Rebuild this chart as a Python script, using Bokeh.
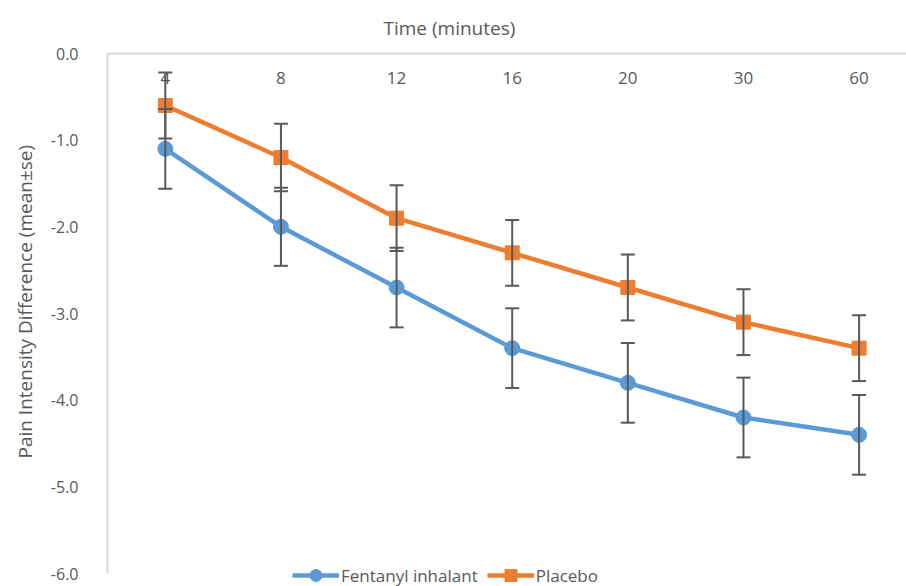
from bokeh.plotting import figure
from bokeh.models import (ColumnDataSource, Whisker, TeeHead, Range1d, FixedTicker,
                          Legend, LegendItem, CustomJSTickFormatter, Title)
from bokeh.embed import file_html
from bokeh.resources import INLINE

times = ["4", "8", "12", "16", "20", "30", "60"]
fentanyl = [-1.1, -2.0, -2.7, -3.4, -3.8, -4.2, -4.4]
fentanyl_se = [0.46, 0.45, 0.46, 0.46, 0.46, 0.46, 0.46]
placebo = [-0.6, -1.2, -1.9, -2.3, -2.7, -3.1, -3.4]
placebo_se = [0.38, 0.39, 0.38, 0.38, 0.38, 0.38, 0.38]
y_ticks = [0, -1, -2, -3, -4, -5, -6]
x_title = "Time (minutes)"
y_title = "Pain Intensity Difference (mean\u00b1se)"

FONT = "Open Sans"
TXT = "#595959"
BLUE = "#5B9BD5"
ORANGE = "#ED7D31"

idx = list(range(len(times)))

p = figure(width=906, height=586, output_backend="svg", toolbar_location=None,
           x_range=Range1d(-0.5, 6.41), y_range=Range1d(-6.15, 0),
           x_axis_location="above", min_border_left=107, min_border_right=0,
           min_border_top=53, min_border_bottom=0)
p.outline_line_color = None
p.grid.visible = False

# x axis (category labels inside the plot, below the axis line)
xa = p.xaxis[0]
xa.ticker = FixedTicker(ticks=idx)
xa.major_label_overrides = {i: t for i, t in zip(idx, times)}
xa.major_tick_line_color = None
xa.minor_tick_line_color = None
xa.axis_line_color = "#d9d9d9"
xa.axis_line_width = 2
xa.major_label_text_font = FONT
xa.major_label_text_font_size = "17px"
xa.major_label_text_color = TXT
xa.major_label_standoff = -36

ya = p.yaxis[0]
ya.ticker = FixedTicker(ticks=y_ticks)
ya.bounds = (-6, 0)
ya.formatter = CustomJSTickFormatter(code="return tick.toFixed(1);")
ya.major_tick_line_color = None
ya.minor_tick_line_color = None
ya.axis_line_color = "#d9d9d9"
ya.axis_line_width = 2
ya.major_label_text_font = FONT
ya.major_label_text_font_size = "16px"
ya.major_label_text_color = TXT
ya.major_label_standoff = 23

p.add_layout(Title(text=x_title, align="left", offset=276, standoff=25,
                   text_font=FONT, text_font_size="19px", text_font_style="normal",
                   text_color=TXT), "above")
p.add_layout(Title(text=y_title, align="left", offset=128, standoff=19,
                   text_font=FONT, text_font_size="19px", text_font_style="normal",
                   text_color=TXT), "left")

src_f = ColumnDataSource(dict(x=idx, y=fentanyl,
                              lo=[v - s for v, s in zip(fentanyl, fentanyl_se)],
                              hi=[v + s for v, s in zip(fentanyl, fentanyl_se)]))
src_p = ColumnDataSource(dict(x=idx, y=placebo,
                              lo=[v - s for v, s in zip(placebo, placebo_se)],
                              hi=[v + s for v, s in zip(placebo, placebo_se)]))

for src in (src_f, src_p):
    w = Whisker(source=src, base="x", upper="hi", lower="lo", dimension="height",
                line_color=TXT, line_width=2, level="glyph",
                upper_head=TeeHead(size=14, line_color=TXT, line_width=2),
                lower_head=TeeHead(size=14, line_color=TXT, line_width=2))
    p.add_layout(w)

lf = p.line("x", "y", source=src_f, line_color=BLUE, line_width=4.5)
mf = p.scatter("x", "y", source=src_f, marker="circle", size=15,
               fill_color=BLUE, line_color=BLUE)
lp = p.line("x", "y", source=src_p, line_color=ORANGE, line_width=4.5)
mp = p.scatter("x", "y", source=src_p, marker="square", size=14,
               fill_color=ORANGE, line_color=ORANGE)

legend = Legend(items=[LegendItem(label="Fentanyl inhalant", renderers=[lf, mf]),
                       LegendItem(label="Placebo", renderers=[lp, mp])],
                orientation="horizontal", location=(185, -4),
                background_fill_alpha=0, border_line_color=None,
                padding=0, margin=0, spacing=9, label_standoff=2,
                glyph_width=47, glyph_height=30, label_height=30,
                label_text_font=FONT, label_text_font_size="17px",
                label_text_color=TXT)
p.add_layout(legend, "center")

open("out.html", "w").write(file_html(p, INLINE))
